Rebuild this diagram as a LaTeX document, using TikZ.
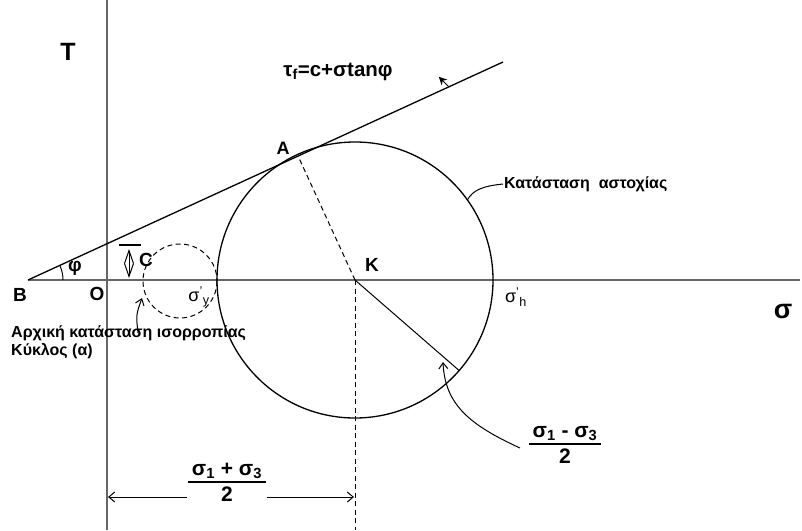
\documentclass[tikz,border=0pt]{standalone}
\usepackage{fontspec}
\setmainfont{Liberation Sans}
\usetikzlibrary{positioning,arrows.meta,calc}
\newcommand{\lo}[1]{\textsubscript{#1}}
\newcommand{\frc}[2]{{\setlength{\arrayrulewidth}{1.2pt}\begin{tabular}{@{\,}c@{\,}}#1\\[-1pt]\hline\rule{0pt}{19pt}#2\end{tabular}}}

\begin{document}
\begin{tikzpicture}[x=1pt,y=-1pt,
    every node/.style={font=\bfseries\fontsize{19}{21}\selectfont,inner sep=1pt},
    axis/.style={line width=1.3pt,black!60},
    curve/.style={line width=1.3pt},
    thinl/.style={line width=1pt},
    dashl/.style={line width=1pt,dash pattern=on 5pt off 3.5pt},
    small/.style={font=\bfseries\fontsize{16}{18}\selectfont},
    frac/.style={font=\bfseries\fontsize{21}{23}\selectfont}]
  \useasboundingbox (0,0) rectangle (802,530);
  % key points
  \coordinate (B) at (28,280);
  \coordinate (O) at (107,280);
  \coordinate (K) at (355,280);
  \coordinate (E) at (503,62);
  \coordinate (A) at ($(B)!(K)!(E)$);
  \coordinate (S) at (180,281);
  % axes
  \draw[axis] (107,0) -- (107,530);
  \draw[axis] (B) -- (800,280);
  % failure envelope
  \draw[curve] (B) -- (E);
  \draw[-{Stealth[length=8pt,width=8pt]},thinl] ($(B)!0.886!(E)$) -- ++(-10,-10);
  \draw[thinl] (B) ++(35,0) arc[start angle=0,end angle=-24.6,radius=35];
  % circles
  \draw[curve] (K) circle[radius=138];
  \draw[dashl] (S) circle[radius=37];
  \draw[dashl] (K) -- (A);
  \draw[dashl] (K) -- (355,530);
  \draw[thinl] (K) -- ++(41:138) coordinate (R);
  % cohesion c
  \draw[curve] (119,245) -- (141,245);
  \draw[thinl,{Straight Barb[length=13pt,width=9pt]}-{Straight Barb[length=13pt,width=9pt]}] (129,249) -- (129,278);
  % labels
  \node[font=\bfseries\fontsize{25}{27}\selectfont] (tauax) at (68,52) {T};
  \node[font=\bfseries\fontsize{27}{29}\selectfont] (sigax) at (783,311) {σ};
  \node[font=\bfseries\fontsize{20.5}{22}\selectfont] (law) at (338,72) {τ\lo{f}=c+σtanφ};
  \node[font=\bfseries\fontsize{18}{20}\selectfont] (Alab) at (283,148) {A};
  \node (Klab) at (372,265) {K};
  \node (Blab) at (20,295) {B};
  \node (Olab) at (97,294) {O};
  \node (philab) at (75,268) {φ};
  \node (Clab) at (146,260) {C};
  \node[font=\fontsize{18}{20}\selectfont] (sy) at (199,297) {σ\textsuperscript{'}\lo{y}};
  \node[font=\fontsize{18}{20}\selectfont] (sh) at (516,297) {σ\textsuperscript{'}\lo{h}};
  \node[small,anchor=west] (fail) at (503,184) {Κατάσταση\ \ αστοχίας};
  \node[small,anchor=north west,align=left,inner sep=0pt] (init) at (11,326) {Αρχική κατάσταση ισορροπίας\\Κύκλος (α)};
  \node[frac] (diff) at (565,446) {\frc{σ\lo{1} - σ\lo{3}}{2}};
  \node[frac] (sum) at (227,484) {\frc{σ\lo{1} + σ\lo{3}}{2}};
  % connectors
  \draw[thinl] (fail.west) .. controls (483,186) and (473,190) .. ($(K)+(-35.5:138)$);
  \draw[thinl,-{Straight Barb[length=6pt,width=9pt]}] ([xshift=-8pt,yshift=-2pt]diff.west) .. controls (470,425) and (445,405) .. (443,362);
  \draw[thinl,-{Straight Barb[length=6pt,width=9pt]}] ($(init.north west)+(127,7)$) .. controls (136,315) .. (142,298);
  \draw[thinl,{Straight Barb[length=6pt,width=10pt]}-] (108,497) -- (sum.west |- 0,497);
  \draw[thinl,-{Straight Barb[length=6pt,width=10pt]}] (sum.east |- 0,497) -- (354,497);
\end{tikzpicture}
\end{document}
